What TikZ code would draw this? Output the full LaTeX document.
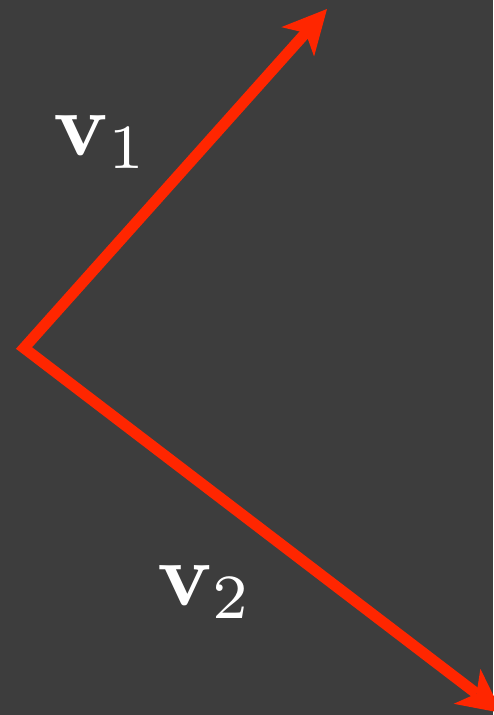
\documentclass[tikz,border=0pt]{standalone}
\usetikzlibrary{arrows.meta}
\definecolor{cbg}{RGB}{61,61,61}
\definecolor{cvec}{RGB}{255,38,0}
\tikzset{vecplane/.style={x=1pt,y=-1pt,>={Stealth[length=44pt,width=44pt,inset=12pt,line width=0pt]}}}
\tikzset{vecpath/.style={cvec,line width=11pt,line join=miter,<->},
         veclabel/.style={white,inner sep=0pt,anchor=base west,scale=9}}

\begin{document}
\begin{tikzpicture}[vecplane]
    \fill[cbg] (0,0) rectangle (493,715);
    \useasboundingbox (0,0) rectangle (493,715);
    \coordinate (o)  at (24,348);
    \coordinate (v1) at (327,9);
    \coordinate (v2) at (502,713);
    \draw[vecpath] (v1) -- (o) -- (v2);
    \node[veclabel] (l1) at (52,155) {$\mathbf{v}_1$};
    \node[veclabel] (l2) at (156,605) {$\mathbf{v}_2$};
  \end{tikzpicture}
\end{document}
